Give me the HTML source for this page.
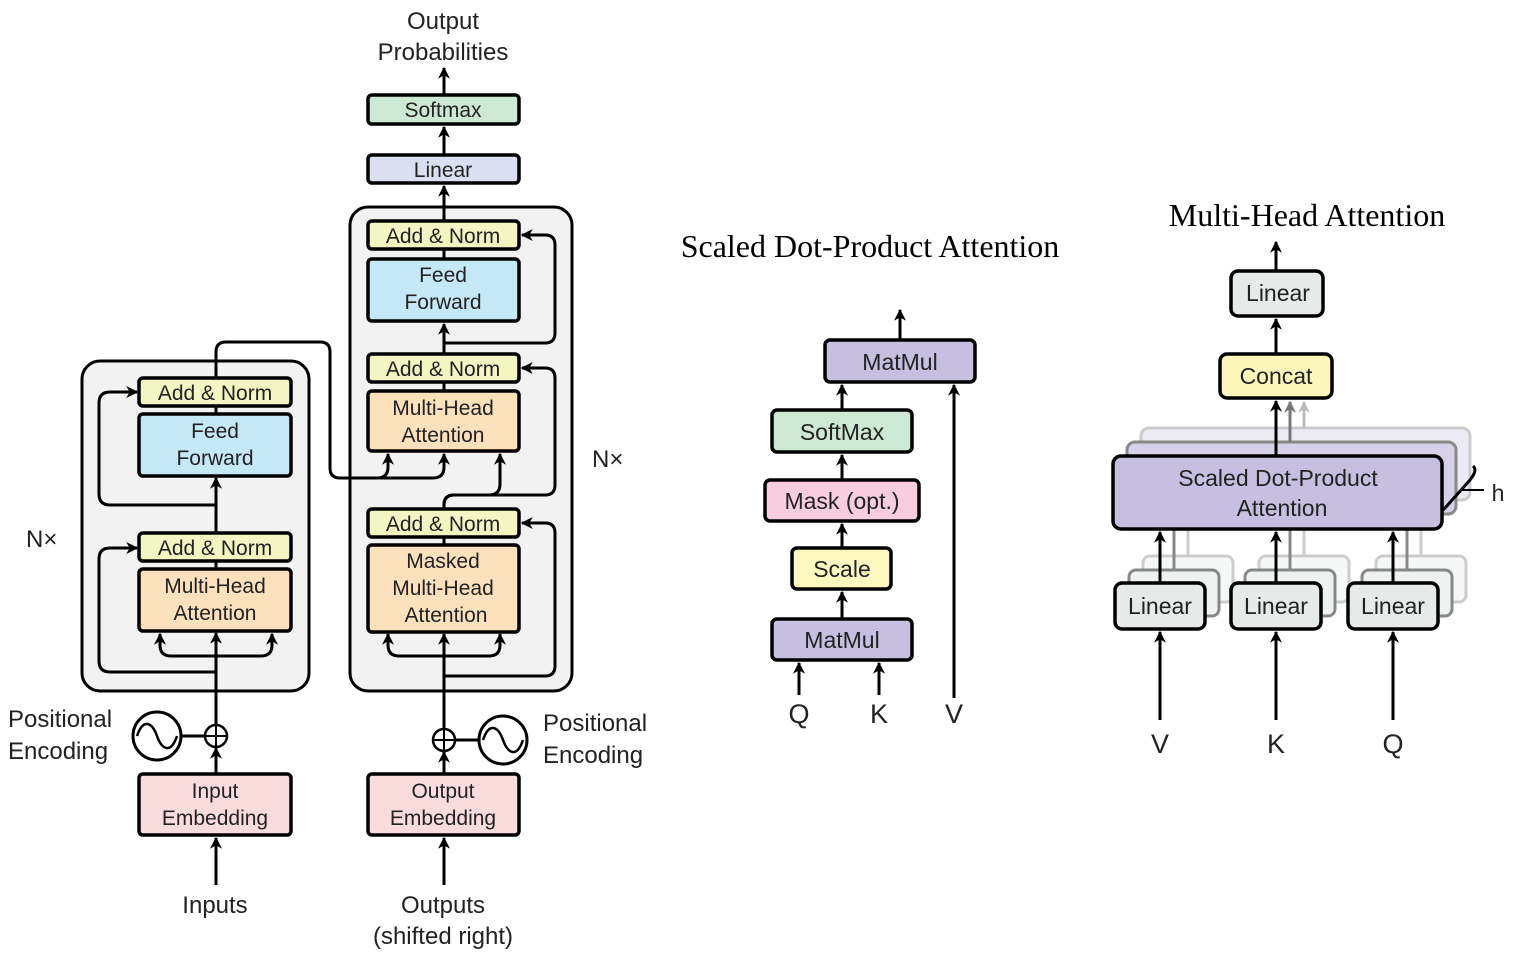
<!DOCTYPE html>
<html><head><meta charset="utf-8"><style>
html,body{margin:0;padding:0;background:#fff;}
svg{display:block;}
text{font-family:"Liberation Sans",sans-serif;fill:#222;}
.s{font-family:"Liberation Serif",serif;fill:#000;}
</style></head><body>
<svg width="1526" height="961" viewBox="0 0 1526 961" xmlns="http://www.w3.org/2000/svg">
<defs>
<marker id="a" viewBox="0 0 10 10" refX="9" refY="5" markerWidth="4" markerHeight="4" orient="auto-start-reverse" markerUnits="strokeWidth">
<path d="M0,0 L10,5 L0,10 L3,5 z" fill="#000"/></marker>
<marker id="ag" viewBox="0 0 10 10" refX="9" refY="5" markerWidth="4" markerHeight="4" orient="auto" markerUnits="strokeWidth">
<path d="M0,0 L10,5 L0,10 L3,5 z" fill="#777"/></marker>
<marker id="al" viewBox="0 0 10 10" refX="9" refY="5" markerWidth="4" markerHeight="4" orient="auto" markerUnits="strokeWidth">
<path d="M0,0 L10,5 L0,10 L3,5 z" fill="#bbb"/></marker>
</defs>

<rect x="82" y="361" width="227" height="330" rx="18" fill="#f2f2f2" stroke="#000" stroke-width="3"/>
<rect x="350" y="207" width="222" height="484" rx="18" fill="#f2f2f2" stroke="#000" stroke-width="3"/>

<g fill="none" stroke="#000" stroke-width="3">
<line x1="216" y1="885" x2="216" y2="838" marker-end="url(#a)"/>
<line x1="216" y1="774" x2="216" y2="748" marker-end="url(#a)"/>
<line x1="216" y1="725" x2="216" y2="633" marker-end="url(#a)"/>
<line x1="216" y1="569" x2="216" y2="561"/>
<line x1="216" y1="533" x2="216" y2="478" marker-end="url(#a)"/>
<line x1="216" y1="414" x2="216" y2="406"/>
<path d="M216,672 H110 Q99,672 99,661 V559 Q99,548 110,548 H137" marker-end="url(#a)"/>
<path d="M216,505 H110 Q99,505 99,494 V403 Q99,392 110,392 H137" marker-end="url(#a)"/>
<path d="M160,634 V645 Q160,656 171,656 H261 Q272,656 272,645 V634" marker-start="url(#a)" marker-end="url(#a)"/>
<path d="M216,378 V352 Q216,342 226,342 H320 Q330,342 330,352 V468 Q330,478 340,478 H377 Q388,478 388,467 V454" marker-end="url(#a)"/>
<path d="M380,478 H433 Q444,478 444,467 V454" marker-end="url(#a)"/>
<line x1="444" y1="885" x2="444" y2="838" marker-end="url(#a)"/>
<line x1="444" y1="774" x2="444" y2="752" marker-end="url(#a)"/>
<line x1="444" y1="729" x2="444" y2="634" marker-end="url(#a)"/>
<line x1="444" y1="545" x2="444" y2="537"/>
<path d="M444,509 V505 Q444,495 454,495 H545 Q555,495 555,485 V378 Q555,368 545,368 H522" marker-end="url(#a)"/>
<path d="M444,509 V505 Q444,495 454,495 H489 Q500,495 500,484 V454" marker-end="url(#a)"/>
<path d="M388,634 V645 Q388,656 399,656 H489 Q500,656 500,645 V634" marker-start="url(#a)" marker-end="url(#a)"/>
<path d="M444,676 H545 Q555,676 555,666 V533 Q555,523 545,523 H522" marker-end="url(#a)"/>
<line x1="444" y1="391" x2="444" y2="382"/>
<line x1="444" y1="354" x2="444" y2="324" marker-end="url(#a)"/>
<path d="M444,343 H545 Q555,343 555,333 V245 Q555,235 545,235 H522" marker-end="url(#a)"/>
<line x1="444" y1="259" x2="444" y2="249"/>
<line x1="444" y1="221" x2="444" y2="186" marker-end="url(#a)"/>
<line x1="444" y1="155" x2="444" y2="127" marker-end="url(#a)"/>
<line x1="444" y1="95" x2="444" y2="68" marker-end="url(#a)"/>
<circle cx="157" cy="736" r="24"/>
<path d="M137,736 C143,718 152,722 157,736 C162,750 171,754 177,736" stroke-width="2.5"/>
<line x1="181" y1="736" x2="205" y2="736"/>
<circle cx="216" cy="736" r="11" stroke-width="2.5"/>
<path d="M205,736 H227 M216,725 V747" stroke-width="2"/>
<circle cx="503" cy="740" r="24"/>
<path d="M483,740 C489,722 498,726 503,740 C508,754 517,758 523,740" stroke-width="2.5"/>
<line x1="455" y1="740" x2="479" y2="740"/>
<circle cx="444" cy="740" r="11" stroke-width="2.5"/>
<path d="M433,740 H455 M444,729 V751" stroke-width="2"/>
</g>

<g stroke="#000" stroke-width="3.5">
<rect x="139" y="378" width="152" height="28" rx="4" fill="#f3f5c3"/>
<rect x="139" y="414" width="152" height="62" rx="4" fill="#c5e8f7"/>
<rect x="139" y="533" width="152" height="28" rx="4" fill="#f3f5c3"/>
<rect x="139" y="569" width="152" height="62" rx="4" fill="#fde1bd"/>
<rect x="368" y="221" width="151" height="28" rx="4" fill="#f3f5c3"/>
<rect x="368" y="259" width="151" height="62" rx="4" fill="#c5e8f7"/>
<rect x="368" y="354" width="151" height="28" rx="4" fill="#f3f5c3"/>
<rect x="368" y="391" width="151" height="60" rx="4" fill="#fde1bd"/>
<rect x="368" y="509" width="151" height="28" rx="4" fill="#f3f5c3"/>
<rect x="368" y="545" width="151" height="87" rx="4" fill="#fde1bd"/>
<rect x="368" y="155" width="151" height="28" rx="4" fill="#dcdff1"/>
<rect x="368" y="95" width="151" height="29" rx="4" fill="#cde9d3"/>
<rect x="139" y="774" width="152" height="61" rx="4" fill="#fadcdd"/>
<rect x="368" y="774" width="151" height="61" rx="4" fill="#fadcdd"/>
</g>

<g font-size="21" text-anchor="middle">
<text x="215" y="400">Add &amp; Norm</text>
<text x="215" y="438">Feed</text><text x="215" y="465">Forward</text>
<text x="215" y="555">Add &amp; Norm</text>
<text x="215" y="593">Multi-Head</text><text x="215" y="620">Attention</text>
<text x="443" y="243">Add &amp; Norm</text>
<text x="443" y="282">Feed</text><text x="443" y="309">Forward</text>
<text x="443" y="376">Add &amp; Norm</text>
<text x="443" y="415">Multi-Head</text><text x="443" y="442">Attention</text>
<text x="443" y="531">Add &amp; Norm</text>
<text x="443" y="568">Masked</text><text x="443" y="595">Multi-Head</text><text x="446" y="622">Attention</text>
<text x="443" y="177">Linear</text>
<text x="443" y="117">Softmax</text>
<text x="215" y="798">Input</text><text x="215" y="825">Embedding</text>
<text x="443" y="798">Output</text><text x="443" y="825">Embedding</text>
</g>
<g font-size="24">
<text x="443" y="29" text-anchor="middle">Output</text>
<text x="443" y="60" text-anchor="middle">Probabilities</text>
<text x="215" y="913" text-anchor="middle">Inputs</text>
<text x="443" y="913" text-anchor="middle">Outputs</text>
<text x="443" y="944" text-anchor="middle">(shifted right)</text>
<text x="8" y="727">Positional</text><text x="8" y="759">Encoding</text>
<text x="543" y="731">Positional</text><text x="543" y="763">Encoding</text>
<text x="26" y="547">N×</text>
<text x="592" y="467">N×</text>
</g>

<text class="s" x="870" y="257" font-size="32" text-anchor="middle">Scaled Dot-Product Attention</text>
<g fill="none" stroke="#000" stroke-width="3">
<line x1="900" y1="340" x2="900" y2="310" marker-end="url(#a)"/>
<line x1="842" y1="410" x2="842" y2="385" marker-end="url(#a)"/>
<line x1="842" y1="480" x2="842" y2="455" marker-end="url(#a)"/>
<line x1="842" y1="548" x2="842" y2="524" marker-end="url(#a)"/>
<line x1="842" y1="619" x2="842" y2="592" marker-end="url(#a)"/>
<line x1="799" y1="695" x2="799" y2="663" marker-end="url(#a)"/>
<line x1="879" y1="695" x2="879" y2="663" marker-end="url(#a)"/>
<line x1="954" y1="698" x2="954" y2="385" marker-end="url(#a)"/>
</g>
<g stroke="#000" stroke-width="3.5">
<rect x="825" y="340" width="150" height="42" rx="5" fill="#c6bfe0"/>
<rect x="772" y="410" width="140" height="42" rx="5" fill="#cde9d3"/>
<rect x="765" y="480" width="154" height="41" rx="5" fill="#f8cde0"/>
<rect x="792" y="548" width="99" height="41" rx="5" fill="#fdf8c0"/>
<rect x="772" y="619" width="140" height="41" rx="5" fill="#c6bfe0"/>
</g>
<g font-size="23" text-anchor="middle">
<text x="900" y="370">MatMul</text>
<text x="842" y="440">SoftMax</text>
<text x="842" y="509">Mask (opt.)</text>
<text x="842" y="577">Scale</text>
<text x="842" y="648">MatMul</text>
<text x="799" y="723" font-size="27">Q</text>
<text x="879" y="723" font-size="27">K</text>
<text x="954" y="723" font-size="27">V</text>
</g>

<text class="s" x="1307" y="226" font-size="32" text-anchor="middle">Multi-Head Attention</text>
<g fill="none" stroke-width="3">
<rect x="1141" y="428" width="329" height="72" rx="8" fill="#ecebf4" stroke="#ccc"/>
<rect x="1127" y="442" width="329" height="72" rx="8" fill="#d6d1e8" stroke="#888"/>
<g stroke="#ccc"><rect x="1143" y="556" width="90" height="46" rx="7" fill="#f6f8f7"/><rect x="1259" y="556" width="90" height="46" rx="7" fill="#f6f8f7"/><rect x="1376" y="556" width="90" height="46" rx="7" fill="#f6f8f7"/>
<line x1="1188" y1="556" x2="1188" y2="530"/><line x1="1304" y1="556" x2="1304" y2="530"/><line x1="1421" y1="556" x2="1421" y2="530"/></g>
<g stroke="#888"><rect x="1129" y="570" width="90" height="46" rx="7" fill="#eef2f0"/><rect x="1245" y="570" width="90" height="46" rx="7" fill="#eef2f0"/><rect x="1362" y="570" width="90" height="46" rx="7" fill="#eef2f0"/>
<line x1="1174" y1="570" x2="1174" y2="530"/><line x1="1290" y1="570" x2="1290" y2="530"/><line x1="1407" y1="570" x2="1407" y2="530"/></g>
<line x1="1304" y1="428" x2="1304" y2="402" stroke="#bbb" marker-end="url(#al)"/>
<line x1="1290" y1="442" x2="1290" y2="402" stroke="#777" marker-end="url(#ag)"/>
<g stroke="#000">
<line x1="1276" y1="271" x2="1276" y2="242" marker-end="url(#a)"/>
<line x1="1276" y1="354" x2="1276" y2="319" marker-end="url(#a)"/>
<line x1="1276" y1="456" x2="1276" y2="401" marker-end="url(#a)"/>
<line x1="1160" y1="583" x2="1160" y2="532" marker-end="url(#a)"/>
<line x1="1276" y1="583" x2="1276" y2="532" marker-end="url(#a)"/>
<line x1="1393" y1="583" x2="1393" y2="532" marker-end="url(#a)"/>
<line x1="1160" y1="720" x2="1160" y2="632" marker-end="url(#a)"/>
<line x1="1276" y1="720" x2="1276" y2="632" marker-end="url(#a)"/>
<line x1="1393" y1="720" x2="1393" y2="632" marker-end="url(#a)"/>
<path d="M1473,466 Q1478,470 1470,480 L1445,508 Q1440,514 1432,512"/>
<line x1="1462" y1="490" x2="1484" y2="490" stroke-width="2"/>
</g>
</g>
<g stroke="#000" stroke-width="3.5">
<rect x="1113" y="456" width="329" height="73" rx="8" fill="#c6bfe0"/>
<rect x="1231" y="271" width="92" height="45" rx="7" fill="#e6ebea"/>
<rect x="1220" y="354" width="112" height="44" rx="7" fill="#fdf6ba"/>
<rect x="1115" y="583" width="90" height="46" rx="7" fill="#e6ebea"/>
<rect x="1231" y="583" width="90" height="46" rx="7" fill="#e6ebea"/>
<rect x="1348" y="583" width="90" height="46" rx="7" fill="#e6ebea"/>
</g>
<g font-size="23" text-anchor="middle">
<text x="1278" y="301">Linear</text>
<text x="1276" y="384">Concat</text>
<text x="1278" y="486">Scaled Dot-Product</text>
<text x="1282" y="516">Attention</text>
<text x="1160" y="614">Linear</text>
<text x="1276" y="614">Linear</text>
<text x="1393" y="614">Linear</text>
<text x="1498" y="501">h</text>
<text x="1160" y="753" font-size="27">V</text>
<text x="1276" y="753" font-size="27">K</text>
<text x="1393" y="753" font-size="27">Q</text>
</g>
</svg>
</body></html>
